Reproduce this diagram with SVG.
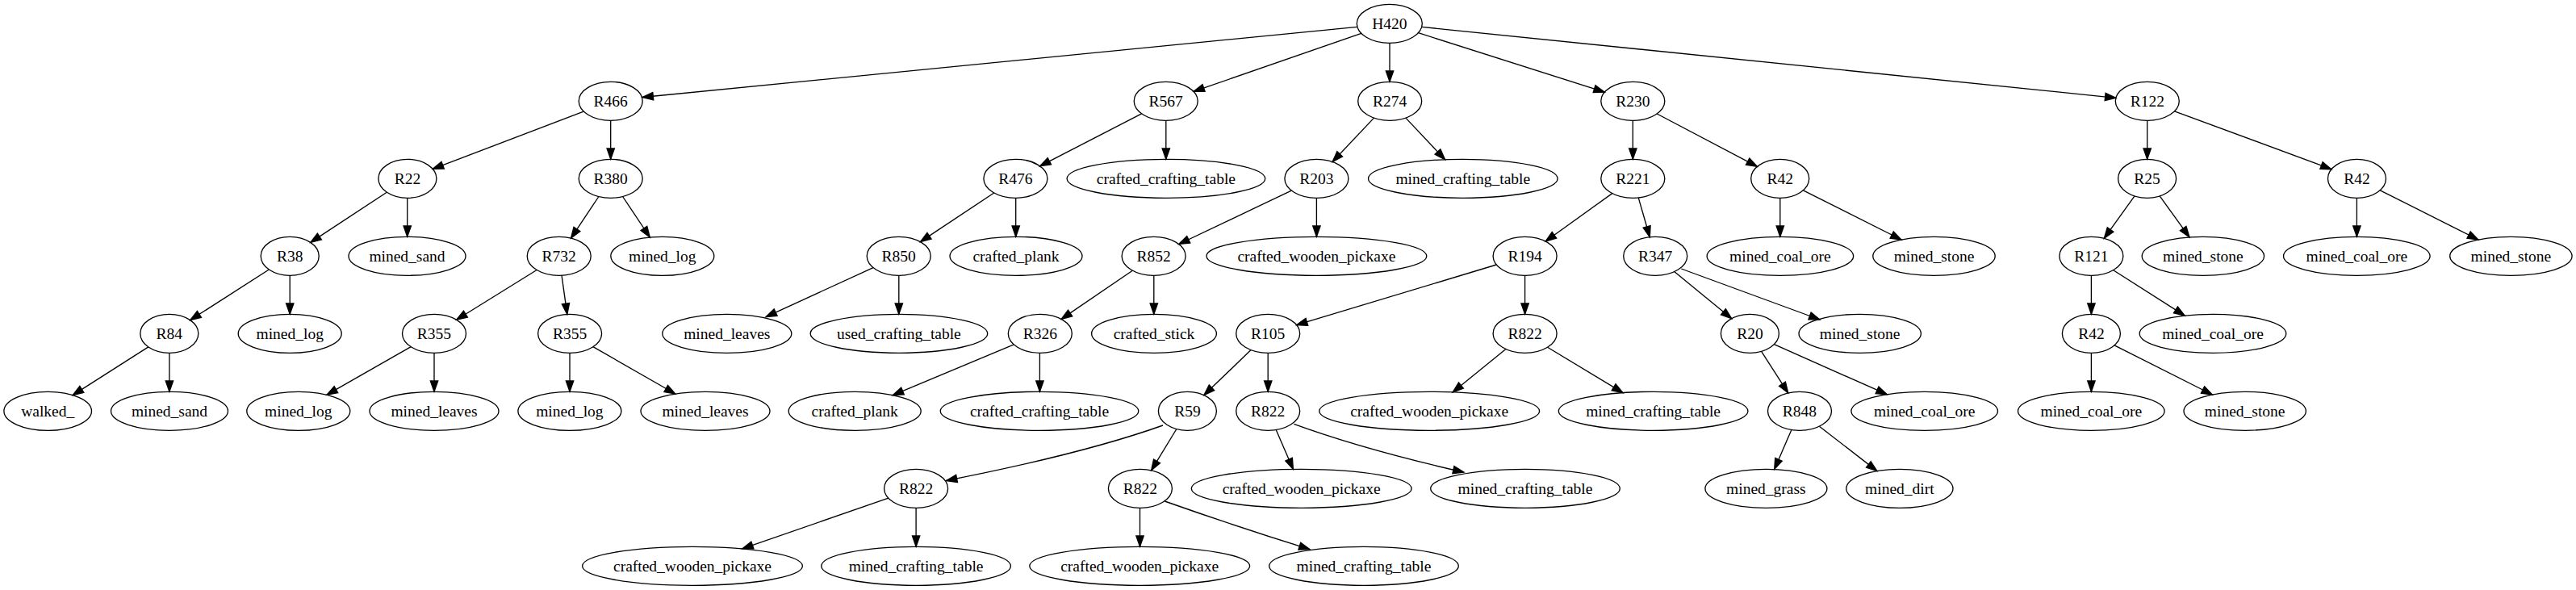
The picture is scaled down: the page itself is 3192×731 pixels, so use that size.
<svg xmlns="http://www.w3.org/2000/svg" width="3192" height="731" viewBox="0 0 3192 731">
<style>
ellipse{fill:none;stroke:#000;stroke-width:1.33}
text{font-family:"Liberation Serif","Times New Roman",serif;font-size:19.5px;text-anchor:middle;fill:#000}
#edges line,#edges path{stroke:#000;stroke-width:1.33;fill:none;marker-end:url(#ah)}
</style>
<defs>
<marker id="ah" markerUnits="userSpaceOnUse" markerWidth="20" markerHeight="14" refX="13.33" refY="4.67" orient="auto" overflow="visible">
<path d="M0,0 L13.33,4.67 L0,9.33 z" fill="#000" stroke="#000" stroke-width="1.33"/>
</marker>
</defs>
<rect width="3192" height="731" fill="#fff"/>
<g id="edges">
<line x1="1681.8" y1="33.3" x2="796" y2="120.5"/>
<line x1="1686.8" y1="41.4" x2="1479" y2="113.4"/>
<line x1="1722" y1="53.3" x2="1722" y2="101.3"/>
<line x1="1757.5" y1="40.7" x2="1988.3" y2="114.2"/>
<line x1="1761.7" y1="33.4" x2="2621.9" y2="121.3"/>
<line x1="723.2" y1="138.1" x2="536.2" y2="209.4"/>
<line x1="756.7" y1="149.3" x2="756.7" y2="197.3"/>
<line x1="479.3" y1="238.2" x2="384.8" y2="300.4"/>
<line x1="504.7" y1="245.3" x2="504.7" y2="293.3"/>
<line x1="333.3" y1="334" x2="235.7" y2="396.6"/>
<line x1="359.2" y1="341.3" x2="359.2" y2="389.3"/>
<line x1="183.8" y1="429.9" x2="90.1" y2="489.6"/>
<line x1="209.9" y1="437.3" x2="209.9" y2="485.3"/>
<line x1="741.9" y1="243.5" x2="707.5" y2="295.1"/>
<line x1="771.6" y1="243.5" x2="805.3" y2="294"/>
<line x1="665.1" y1="334.5" x2="565.6" y2="396.2"/>
<line x1="696" y1="341.2" x2="702.8" y2="389.4"/>
<line x1="509.2" y1="429.7" x2="404.9" y2="489.2"/>
<line x1="538" y1="437.3" x2="538" y2="485.3"/>
<line x1="706" y1="437.3" x2="706" y2="485.3"/>
<line x1="734.9" y1="429.7" x2="836.8" y2="488"/>
<line x1="1414.6" y1="140.8" x2="1288.5" y2="205.8"/>
<line x1="1444.8" y1="149.3" x2="1444.8" y2="197.3"/>
<line x1="1231.7" y1="239" x2="1140.4" y2="299.6"/>
<line x1="1258.7" y1="245.3" x2="1258.7" y2="293.3"/>
<line x1="1082" y1="331.6" x2="949" y2="392.6"/>
<line x1="1113.8" y1="341.3" x2="1113.8" y2="389.3"/>
<line x1="1702.5" y1="146.1" x2="1651.1" y2="200.5"/>
<line x1="1741.9" y1="146.1" x2="1790.6" y2="197.7"/>
<line x1="1600.3" y1="236.1" x2="1460.7" y2="302.5"/>
<line x1="1631.4" y1="245.3" x2="1631.4" y2="293.3"/>
<line x1="1403.3" y1="335.2" x2="1315.1" y2="395.4"/>
<line x1="1429.8" y1="341.3" x2="1429.8" y2="389.3"/>
<line x1="1256.3" y1="426.9" x2="1106.2" y2="489.6"/>
<line x1="1288.4" y1="437.3" x2="1288.4" y2="485.3"/>
<line x1="2023.3" y1="149.3" x2="2023.3" y2="197.3"/>
<line x1="2053.2" y1="141" x2="2177.4" y2="206.4"/>
<line x1="1997.8" y1="239.6" x2="1915.1" y2="299"/>
<line x1="2030.2" y1="244.9" x2="2044.3" y2="293.7"/>
<line x1="1854.2" y1="328" x2="1606.6" y2="402.6"/>
<line x1="1889.6" y1="341.3" x2="1889.6" y2="389.3"/>
<line x1="1550.1" y1="433.6" x2="1491.9" y2="489.6"/>
<line x1="1571.2" y1="437.3" x2="1571.2" y2="485.3"/>
<line x1="1865.9" y1="432.5" x2="1800.1" y2="485.9"/>
<line x1="1917.6" y1="430.2" x2="2011" y2="486.6"/>
<path d="M1441,527 Q1343,562 1172.5,595.5"/>
<line x1="1457.9" y1="531.5" x2="1426.6" y2="582.8"/>
<line x1="1581.2" y1="532.5" x2="1602.4" y2="581.4"/>
<path d="M1603.3,525.4 Q1690,557 1813.9,585.1"/>
<line x1="1100.8" y1="617.2" x2="919.8" y2="679.9"/>
<line x1="1135.1" y1="629.3" x2="1135.1" y2="677.3"/>
<line x1="1412.5" y1="629.3" x2="1412.5" y2="677.3"/>
<path d="M1443.3,621 Q1528,651 1623,680.7"/>
<line x1="2074.7" y1="336.6" x2="2145.7" y2="394.7"/>
<line x1="2083.3" y1="333" x2="2255" y2="396"/>
<line x1="2182.6" y1="435.4" x2="2215.7" y2="486.9"/>
<line x1="2198.4" y1="426.6" x2="2338.2" y2="488.7"/>
<line x1="2219.9" y1="532.5" x2="2198.7" y2="581.5"/>
<line x1="2254.4" y1="528.2" x2="2325.9" y2="583.6"/>
<line x1="2205.8" y1="245.3" x2="2205.8" y2="293.3"/>
<line x1="2234.4" y1="235.8" x2="2356.1" y2="297"/>
<line x1="2660.7" y1="149.3" x2="2660.7" y2="197.3"/>
<line x1="2694.5" y1="137.8" x2="2889" y2="209.7"/>
<line x1="2645" y1="242.9" x2="2607.3" y2="295.3"/>
<line x1="2676.2" y1="242.9" x2="2713" y2="293.9"/>
<line x1="2591.4" y1="341.3" x2="2591.4" y2="389.3"/>
<line x1="2618.7" y1="334.7" x2="2707.2" y2="391.1"/>
<line x1="2591.4" y1="437.3" x2="2591.4" y2="485.3"/>
<line x1="2620.1" y1="427.8" x2="2741.4" y2="489"/>
<line x1="2920.4" y1="245.3" x2="2920.4" y2="293.3"/>
<line x1="2949.3" y1="235.8" x2="3071" y2="297"/>
</g>
<g id="H420"><ellipse cx="1721.8" cy="29.3" rx="40.5" ry="24"/><text x="1721.8" y="35.5">H420</text></g>
<g id="R466"><ellipse cx="756.7" cy="125.3" rx="39.5" ry="24"/><text x="756.7" y="131.5">R466</text></g>
<g id="R567"><ellipse cx="1444.7" cy="125.3" rx="39.5" ry="24"/><text x="1444.7" y="131.5">R567</text></g>
<g id="R274"><ellipse cx="1722.2" cy="125.3" rx="39.5" ry="24"/><text x="1722.2" y="131.5">R274</text></g>
<g id="R230"><ellipse cx="2023.3" cy="125.3" rx="39.5" ry="24"/><text x="2023.3" y="131.5">R230</text></g>
<g id="R122"><ellipse cx="2660.8" cy="125.3" rx="39.5" ry="24"/><text x="2660.8" y="131.5">R122</text></g>
<g id="R22"><ellipse cx="504.9" cy="221.3" rx="36" ry="24"/><text x="504.9" y="227.5">R22</text></g>
<g id="R380"><ellipse cx="756.7" cy="221.3" rx="39.5" ry="24"/><text x="756.7" y="227.5">R380</text></g>
<g id="R476"><ellipse cx="1258.4" cy="221.3" rx="39.5" ry="24"/><text x="1258.4" y="227.5">R476</text></g>
<g id="crafted_crafting_table_1"><ellipse cx="1444.9" cy="221.3" rx="122.8" ry="24"/><text x="1444.9" y="227.5">crafted_crafting_table</text></g>
<g id="R203"><ellipse cx="1631.4" cy="221.3" rx="39.5" ry="24"/><text x="1631.4" y="227.5">R203</text></g>
<g id="mined_crafting_table_1"><ellipse cx="1812.8" cy="221.3" rx="117.3" ry="24"/><text x="1812.8" y="227.5">mined_crafting_table</text></g>
<g id="R221"><ellipse cx="2023.3" cy="221.3" rx="39.5" ry="24"/><text x="2023.3" y="227.5">R221</text></g>
<g id="R42_1"><ellipse cx="2205.7" cy="221.3" rx="36" ry="24"/><text x="2205.7" y="227.5">R42</text></g>
<g id="R25"><ellipse cx="2660.6" cy="221.3" rx="36" ry="24"/><text x="2660.6" y="227.5">R25</text></g>
<g id="R42_2"><ellipse cx="2920.5" cy="221.3" rx="36" ry="24"/><text x="2920.5" y="227.5">R42</text></g>
<g id="R38"><ellipse cx="359.2" cy="317.3" rx="36" ry="24"/><text x="359.2" y="323.5">R38</text></g>
<g id="mined_sand_1"><ellipse cx="504.5" cy="317.3" rx="72.5" ry="24"/><text x="504.5" y="323.5">mined_sand</text></g>
<g id="R732"><ellipse cx="692.7" cy="317.3" rx="39.5" ry="24"/><text x="692.7" y="323.5">R732</text></g>
<g id="mined_log_1"><ellipse cx="820.8" cy="317.3" rx="64" ry="24"/><text x="820.8" y="323.5">mined_log</text></g>
<g id="R850"><ellipse cx="1113.7" cy="317.3" rx="39.5" ry="24"/><text x="1113.7" y="323.5">R850</text></g>
<g id="crafted_plank_1"><ellipse cx="1259" cy="317.3" rx="82" ry="24"/><text x="1259" y="323.5">crafted_plank</text></g>
<g id="R852"><ellipse cx="1429.6" cy="317.3" rx="39.5" ry="24"/><text x="1429.6" y="323.5">R852</text></g>
<g id="crafted_wooden_pickaxe_1"><ellipse cx="1631.4" cy="317.3" rx="136.4" ry="24"/><text x="1631.4" y="323.5">crafted_wooden_pickaxe</text></g>
<g id="R194"><ellipse cx="1889.6" cy="317.3" rx="39.5" ry="24"/><text x="1889.6" y="323.5">R194</text></g>
<g id="R347"><ellipse cx="2051.2" cy="317.3" rx="39.5" ry="24"/><text x="2051.2" y="323.5">R347</text></g>
<g id="mined_coal_ore_1"><ellipse cx="2205.9" cy="317.3" rx="90.8" ry="24"/><text x="2205.9" y="323.5">mined_coal_ore</text></g>
<g id="mined_stone_1"><ellipse cx="2396.5" cy="317.3" rx="75.7" ry="24"/><text x="2396.5" y="323.5">mined_stone</text></g>
<g id="R121"><ellipse cx="2591.4" cy="317.3" rx="39.5" ry="24"/><text x="2591.4" y="323.5">R121</text></g>
<g id="mined_stone_2"><ellipse cx="2729.9" cy="317.3" rx="75.7" ry="24"/><text x="2729.9" y="323.5">mined_stone</text></g>
<g id="mined_coal_ore_2"><ellipse cx="2920.3" cy="317.3" rx="90.8" ry="24"/><text x="2920.3" y="323.5">mined_coal_ore</text></g>
<g id="mined_stone_3"><ellipse cx="3111.4" cy="317.3" rx="75.7" ry="24"/><text x="3111.4" y="323.5">mined_stone</text></g>
<g id="R84"><ellipse cx="209.8" cy="413.3" rx="36" ry="24"/><text x="209.8" y="419.5">R84</text></g>
<g id="mined_log_2"><ellipse cx="359.2" cy="413.3" rx="64" ry="24"/><text x="359.2" y="419.5">mined_log</text></g>
<g id="R355_1"><ellipse cx="538" cy="413.3" rx="39.5" ry="24"/><text x="538" y="419.5">R355</text></g>
<g id="R355_2"><ellipse cx="706.1" cy="413.3" rx="39.5" ry="24"/><text x="706.1" y="419.5">R355</text></g>
<g id="mined_leaves_1"><ellipse cx="900.8" cy="413.3" rx="80" ry="24"/><text x="900.8" y="419.5">mined_leaves</text></g>
<g id="used_crafting_table"><ellipse cx="1113.9" cy="413.3" rx="109.8" ry="24"/><text x="1113.9" y="419.5">used_crafting_table</text></g>
<g id="R326"><ellipse cx="1288.8" cy="413.3" rx="39.5" ry="24"/><text x="1288.8" y="419.5">R326</text></g>
<g id="crafted_stick"><ellipse cx="1430" cy="413.3" rx="77.4" ry="24"/><text x="1430" y="419.5">crafted_stick</text></g>
<g id="R105"><ellipse cx="1571.2" cy="413.3" rx="39.5" ry="24"/><text x="1571.2" y="419.5">R105</text></g>
<g id="R822_1"><ellipse cx="1889.6" cy="413.3" rx="39.5" ry="24"/><text x="1889.6" y="419.5">R822</text></g>
<g id="R20"><ellipse cx="2168.4" cy="413.3" rx="36" ry="24"/><text x="2168.4" y="419.5">R20</text></g>
<g id="mined_stone_4"><ellipse cx="2304.7" cy="413.3" rx="75.7" ry="24"/><text x="2304.7" y="419.5">mined_stone</text></g>
<g id="R42_3"><ellipse cx="2591.4" cy="413.3" rx="36" ry="24"/><text x="2591.4" y="419.5">R42</text></g>
<g id="mined_coal_ore_3"><ellipse cx="2742" cy="413.3" rx="90.8" ry="24"/><text x="2742" y="419.5">mined_coal_ore</text></g>
<g id="walked_"><ellipse cx="59.2" cy="509.3" rx="54.3" ry="24"/><text x="59.2" y="515.5">walked_</text></g>
<g id="mined_sand_2"><ellipse cx="210" cy="509.3" rx="72.5" ry="24"/><text x="210" y="515.5">mined_sand</text></g>
<g id="mined_log_3"><ellipse cx="369.8" cy="509.3" rx="64" ry="24"/><text x="369.8" y="515.5">mined_log</text></g>
<g id="mined_leaves_2"><ellipse cx="538" cy="509.3" rx="80" ry="24"/><text x="538" y="515.5">mined_leaves</text></g>
<g id="mined_log_4"><ellipse cx="705.9" cy="509.3" rx="64" ry="24"/><text x="705.9" y="515.5">mined_log</text></g>
<g id="mined_leaves_3"><ellipse cx="874" cy="509.3" rx="80" ry="24"/><text x="874" y="515.5">mined_leaves</text></g>
<g id="crafted_plank_2"><ellipse cx="1059.2" cy="509.3" rx="82" ry="24"/><text x="1059.2" y="515.5">crafted_plank</text></g>
<g id="crafted_crafting_table_2"><ellipse cx="1288" cy="509.3" rx="122.8" ry="24"/><text x="1288" y="515.5">crafted_crafting_table</text></g>
<g id="R59"><ellipse cx="1471.4" cy="509.3" rx="36" ry="24"/><text x="1471.4" y="515.5">R59</text></g>
<g id="R822_2"><ellipse cx="1571.2" cy="509.3" rx="39.5" ry="24"/><text x="1571.2" y="515.5">R822</text></g>
<g id="crafted_wooden_pickaxe_2"><ellipse cx="1771.2" cy="509.3" rx="136.4" ry="24"/><text x="1771.2" y="515.5">crafted_wooden_pickaxe</text></g>
<g id="mined_crafting_table_2"><ellipse cx="2048.6" cy="509.3" rx="117.3" ry="24"/><text x="2048.6" y="515.5">mined_crafting_table</text></g>
<g id="R848"><ellipse cx="2230" cy="509.3" rx="39.5" ry="24"/><text x="2230" y="515.5">R848</text></g>
<g id="mined_coal_ore_4"><ellipse cx="2384.7" cy="509.3" rx="90.8" ry="24"/><text x="2384.7" y="515.5">mined_coal_ore</text></g>
<g id="mined_coal_ore_5"><ellipse cx="2591.3" cy="509.3" rx="90.8" ry="24"/><text x="2591.3" y="515.5">mined_coal_ore</text></g>
<g id="mined_stone_5"><ellipse cx="2781.7" cy="509.3" rx="75.7" ry="24"/><text x="2781.7" y="515.5">mined_stone</text></g>
<g id="R822_3"><ellipse cx="1135.1" cy="605.3" rx="39.5" ry="24"/><text x="1135.1" y="611.5">R822</text></g>
<g id="R822_4"><ellipse cx="1412.9" cy="605.3" rx="39.5" ry="24"/><text x="1412.9" y="611.5">R822</text></g>
<g id="crafted_wooden_pickaxe_3"><ellipse cx="1612.7" cy="605.3" rx="136.4" ry="24"/><text x="1612.7" y="611.5">crafted_wooden_pickaxe</text></g>
<g id="mined_crafting_table_3"><ellipse cx="1890" cy="605.3" rx="117.3" ry="24"/><text x="1890" y="611.5">mined_crafting_table</text></g>
<g id="mined_grass"><ellipse cx="2188.4" cy="605.3" rx="75.5" ry="24"/><text x="2188.4" y="611.5">mined_grass</text></g>
<g id="mined_dirt"><ellipse cx="2353.9" cy="605.3" rx="66.1" ry="24"/><text x="2353.9" y="611.5">mined_dirt</text></g>
<g id="crafted_wooden_pickaxe_4"><ellipse cx="858" cy="701.3" rx="136.4" ry="24"/><text x="858" y="707.5">crafted_wooden_pickaxe</text></g>
<g id="mined_crafting_table_4"><ellipse cx="1135.1" cy="701.3" rx="117.3" ry="24"/><text x="1135.1" y="707.5">mined_crafting_table</text></g>
<g id="crafted_wooden_pickaxe_5"><ellipse cx="1412.2" cy="701.3" rx="136.4" ry="24"/><text x="1412.2" y="707.5">crafted_wooden_pickaxe</text></g>
<g id="mined_crafting_table_5"><ellipse cx="1690" cy="701.3" rx="117.3" ry="24"/><text x="1690" y="707.5">mined_crafting_table</text></g>
</svg>
